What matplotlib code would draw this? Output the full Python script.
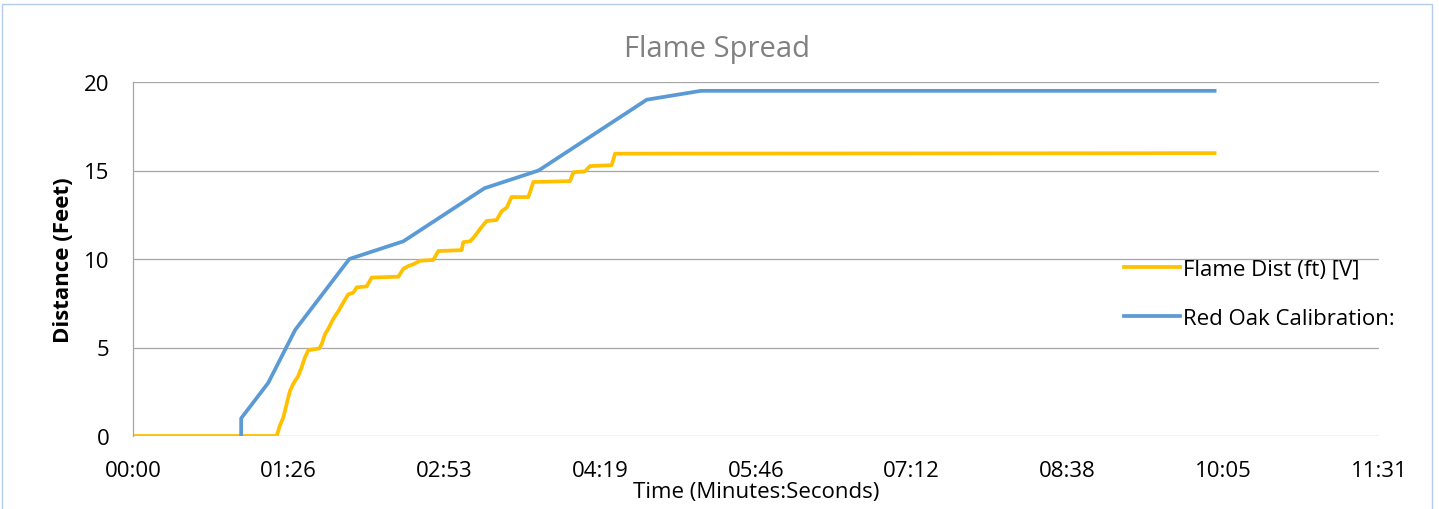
import matplotlib
matplotlib.use('Agg')
import matplotlib.pyplot as plt
from matplotlib.patches import Rectangle
from matplotlib.ticker import FuncFormatter
import numpy as np

plt.rcParams['font.family'] = ['Open Sans', 'DejaVu Sans']

# Flame Dist (ft) [V] - tempo em segundos, distância em pés
flame_t = [0, 79.7, 81.5, 83.4, 85.2, 87.1, 88.9, 91.7, 93.6, 95.4, 97.3, 103.4,
           104.7, 106.5, 108.3, 111, 113.9, 116.7, 119.4, 122.2, 124.1, 129.6,
           132.4, 147.2, 150, 152.7, 155.5, 159.2, 166.6, 169.4, 182.3, 183.2,
           187, 189.7, 192.5, 196.2, 201.7, 204.5, 207.3, 210, 219.3, 222.1,
           242.4, 244.3, 250.7, 253.5, 265.5, 267.4, 600]
flame_ft = [0, 0, 0.6, 1.05, 1.8, 2.55, 2.95, 3.4, 3.9, 4.45, 4.85, 4.95,
            5.2, 5.75, 6.05, 6.6, 7.05, 7.55, 8.0, 8.1, 8.4, 8.45,
            8.95, 9.0, 9.45, 9.6, 9.7, 9.9, 9.95, 10.45, 10.5, 10.95,
            11.0, 11.3, 11.7, 12.15, 12.2, 12.7, 12.9, 13.5, 13.5, 14.35,
            14.4, 14.9, 14.95, 15.25, 15.3, 15.95, 15.98]

# Red Oak Calibration
oak_t = [60, 60, 75, 90, 120, 150, 195, 225, 285, 315, 600]
oak_ft = [0, 1, 3, 6, 10, 11, 14, 15, 19, 19.5, 19.5]

x_ticks = np.arange(0, 691.3, 86.4)
y_ticks = [0, 5, 10, 15, 20]

W, H = 1439, 510
fig = plt.figure(figsize=(W / 100, H / 100), dpi=100)
ax = fig.add_axes([133 / W, 1 - 437 / H, (1379 - 133) / W, (437 - 83) / H])

ax.plot(flame_t, flame_ft, color='#FFC000', lw=2.7, label='Flame Dist (ft) [V]',
        solid_joinstyle='round')
ax.plot(oak_t, oak_ft, color='#5B9BD5', lw=2.7, label='Red Oak Calibration:',
        solid_joinstyle='round')

ax.set_xlim(0, 691.2)
ax.set_ylim(0, 20)
ax.set_xticks(x_ticks)
ax.set_yticks(y_ticks)


def mmss(v, pos):
    s = int(round(v))
    return f'{s // 60:02d}:{s % 60:02d}'


ax.xaxis.set_major_formatter(FuncFormatter(mmss))
ax.tick_params(length=0, labelsize=16, pad=17, colors='black')
ax.grid(axis='y', color='#a6a6a6', lw=0.9)
ax.set_axisbelow(True)
for s in ['top', 'right', 'bottom']:
    ax.spines[s].set_visible(False)
ax.spines['left'].set_color('#a6a6a6')
ax.spines['left'].set_linewidth(0.9)

ax.set_xlabel('Time (Minutes:Seconds)', fontsize=16, labelpad=0)
ax.set_ylabel('Distance (Feet)', fontsize=16, fontweight='bold', labelpad=7)

fig.text(0.498, 1 - 50 / H, 'Flame Spread', ha='center', va='center',
         fontsize=21, color='#808080')

fig.legend(loc='upper left', bbox_to_anchor=(1124 / W, 1 - 260 / H),
           frameon=False, fontsize=16, handlelength=2.5, handletextpad=0.15,
           labelspacing=1.25, borderpad=0, borderaxespad=0)

fig.patches.append(Rectangle((2 / W, -0.01), (1432 - 2) / W, 1 - 5 / H + 0.01,
                             transform=fig.transFigure, fill=False,
                             edgecolor='#b4cdee', lw=1))

fig.savefig('out.png', dpi=100)
